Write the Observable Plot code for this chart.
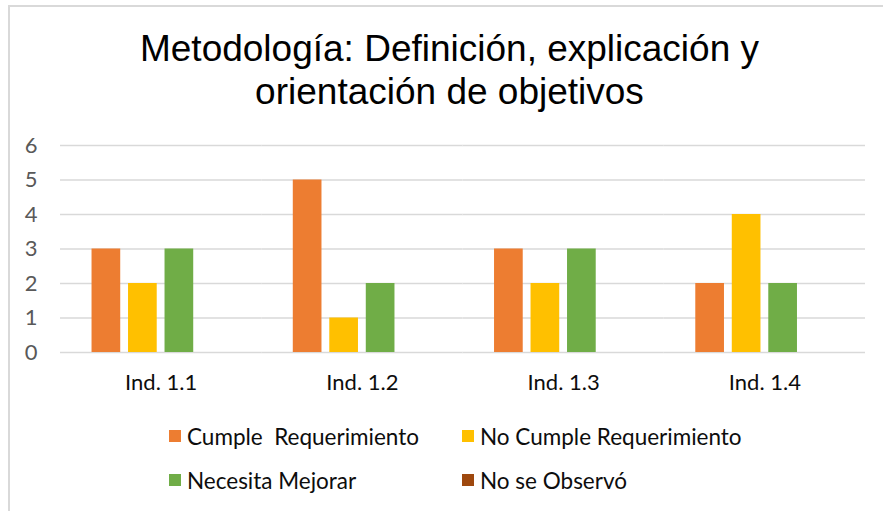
<!DOCTYPE html>
<html>
<head>
<meta charset="utf-8">
<script src="https://cdn.jsdelivr.net/npm/d3@7"></script>
<script src="https://cdn.jsdelivr.net/npm/@observablehq/plot@0.6"></script>
<style>
  html, body { margin: 0; padding: 0; background: #fff; width: 883px; height: 511px; overflow: hidden; }
  #frame { position: absolute; left: 8px; top: 5px; width: 1000px; height: 700px;
           border-left: 2px solid #d9d9d9; border-top: 2px solid #d9d9d9; box-sizing: border-box; }
  #title { position: absolute; left: 0; top: 27px; width: 899px; text-align: center;
           font-family: "Liberation Sans", Arial, sans-serif; font-size: 37px; line-height: 43px; color: #000; }
  #chart { position: absolute; left: 0; top: 120px; }
  #legend { position: absolute; left: 169px; top: 424px; display: grid;
            grid-template-columns: 293px auto; grid-auto-rows: 44px;
            font-family: Lato, sans-serif; font-size: 22.5px; color: #0d0d0d; }
  .item { display: flex; align-items: center; height: 24px; white-space: pre; }
  .sw { width: 12px; height: 12px; margin-right: 6px; flex: none; }
</style>
</head>
<body>
<div id="frame"></div>
<div id="title">Metodología: Definición, explicación y<br>orientación de objetivos</div>
<div id="chart"></div>
<div id="legend"></div>
<script>
const categories = ["Ind. 1.1", "Ind. 1.2", "Ind. 1.3", "Ind. 1.4"];
const series = ["Cumple  Requerimiento", "No Cumple Requerimiento", "Necesita Mejorar", "No se Observó"];
const cumple = [3, 5, 3, 2];
const noCumple = [2, 1, 2, 4];
const necesita = [3, 2, 3, 2];
const noObservo = [0, 0, 0, 0];
const colors = ["#ED7D31", "#FFC000", "#70AD47", "#9E480E"];
const yTicks = [0, 1, 2, 3, 4, 5, 6];

const valuesBySeries = [cumple, noCumple, necesita, noObservo];
const data = [];
categories.forEach((c, i) => {
  series.forEach((s, j) => data.push({cat: c, series: s, value: valuesBySeries[j][i]}));
});

const chart = Plot.plot({
  width: 883,
  height: 290,
  marginTop: 25,
  marginBottom: 58,
  marginLeft: 60,
  marginRight: 18,
  style: {fontFamily: "Lato, sans-serif", background: "transparent"},
  fx: {domain: categories, padding: 0, round: false, label: null},
  x: {domain: series, paddingInner: 0.214, paddingOuter: 0.864, round: false, axis: null},
  y: {domain: [0, 6], label: null},
  color: {domain: series, range: colors},
  marks: [
    Plot.gridY(yTicks, {stroke: "#d9d9d9", strokeOpacity: 1, strokeWidth: 1.3}),
    Plot.axisY(yTicks, {tickSize: 0, tickPadding: 23, label: null, fill: "#595959", fontSize: 22}),
    Plot.axisFx({anchor: "bottom", tickSize: 0, tickPadding: 22, label: null, fill: "#0d0d0d", fontSize: 22}),
    Plot.barY(data, {fx: "cat", x: "series", y: "value", fill: "series"})
  ]
});
document.getElementById("chart").appendChild(chart);

const legend = d3.select("#legend");
series.forEach((s, i) => {
  const item = legend.append("div").attr("class", "item");
  item.append("div").attr("class", "sw").style("background", colors[i]);
  item.append("span").text(s);
});
</script>
</body>
</html>
